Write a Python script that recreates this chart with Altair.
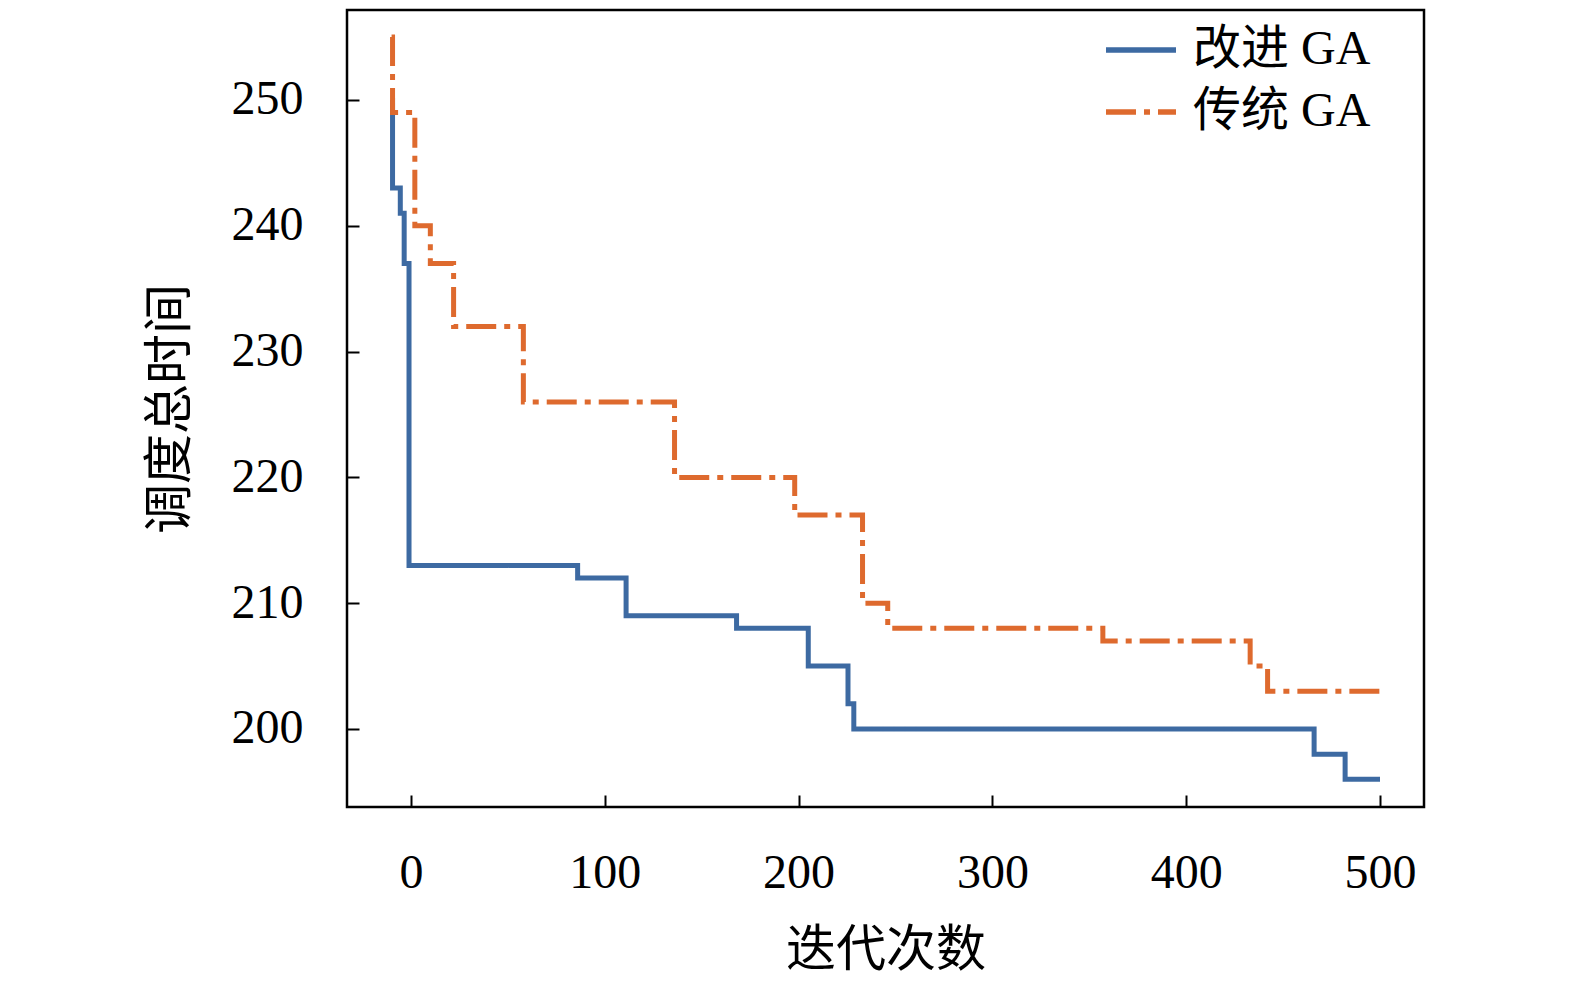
import altair as alt
import pandas as pd

# step change points (iteration, total scheduling time)
x_improved = [-10, -9.5, -5.5, -3.5, -1, 86, 111, 168, 205, 225.5, 228.5, 466, 482, 500]
y_improved = [250, 243, 241, 237, 213, 212, 209, 208, 205, 202, 200, 198, 196, 196]
x_trad = [-10, -9.5, 2, 10, 22, 58, 136, 198, 233, 246, 357, 433, 442, 500]
y_trad = [255, 249, 240, 237, 232, 226, 220, 217, 210, 208, 207, 205, 203, 203]
series = ["改进 GA", "传统 GA"]
x_ticks = [0, 100, 200, 300, 400, 500]
y_ticks = [200, 210, 220, 230, 240, 250]

rows = []
for xv, yv in zip(x_improved, y_improved):
    rows.append({"x": xv, "y": yv, "s": series[0]})
for xv, yv in zip(x_trad, y_trad):
    rows.append({"x": xv, "y": yv, "s": series[1]})
df = pd.DataFrame(rows)

FONT = "Liberation Serif, Times New Roman, Noto Sans CJK SC"

chart = alt.Chart(df).mark_line(interpolate="step-after", strokeWidth=5, strokeCap="butt").encode(
    x=alt.X("x:Q",
            scale=alt.Scale(domain=[-33, 522.7], nice=False, zero=False),
            axis=alt.Axis(values=x_ticks, title="迭代次数", offset=-12, tickSize=12, tickWidth=2,
                          tickColor="black", domain=False, grid=False, labelPadding=42,
                          titlePadding=28, labelFlush=False)),
    y=alt.Y("y:Q",
            scale=alt.Scale(domain=[193.8, 257.15], nice=False, zero=False),
            axis=alt.Axis(values=y_ticks, title="调度总时间", offset=-12, tickSize=12, tickWidth=2,
                          tickColor="black", domain=False, grid=False, labelPadding=44,
                          titlePadding=36)),
    color=alt.Color("s:N", scale=alt.Scale(domain=series, range=["#3D6AA2", "#DE6A2E"]),
                    legend=alt.Legend(title=None, orient="none", legendX=756, legendY=2,
                                      symbolType="stroke", symbolSize=4900, symbolStrokeWidth=5.5,
                                      labelFontSize=48, labelFont=FONT, labelColor="black",
                                      labelOffset=14, rowPadding=0, padding=0, labelLimit=0)),
    strokeDash=alt.StrokeDash("s:N", scale=alt.Scale(domain=series, range=[[1, 0], [30, 8, 6, 8]]),
                              legend=None),
    detail="s:N",
).properties(
    width=1077, height=797,
    autosize=alt.AutoSizeParams(type="none"),
    padding={"left": 339, "top": 2, "right": 140, "bottom": 174},
).configure_view(
    stroke="black", strokeWidth=2.5
).configure_axis(
    labelFont=FONT, titleFont=FONT, labelFontSize=48, titleFontSize=50,
    labelColor="black", titleColor="black", titleFontWeight="normal"
).configure_legend(
    labelFont=FONT
)

chart.save("out.html", embed_options={"renderer": "svg", "actions": False})
